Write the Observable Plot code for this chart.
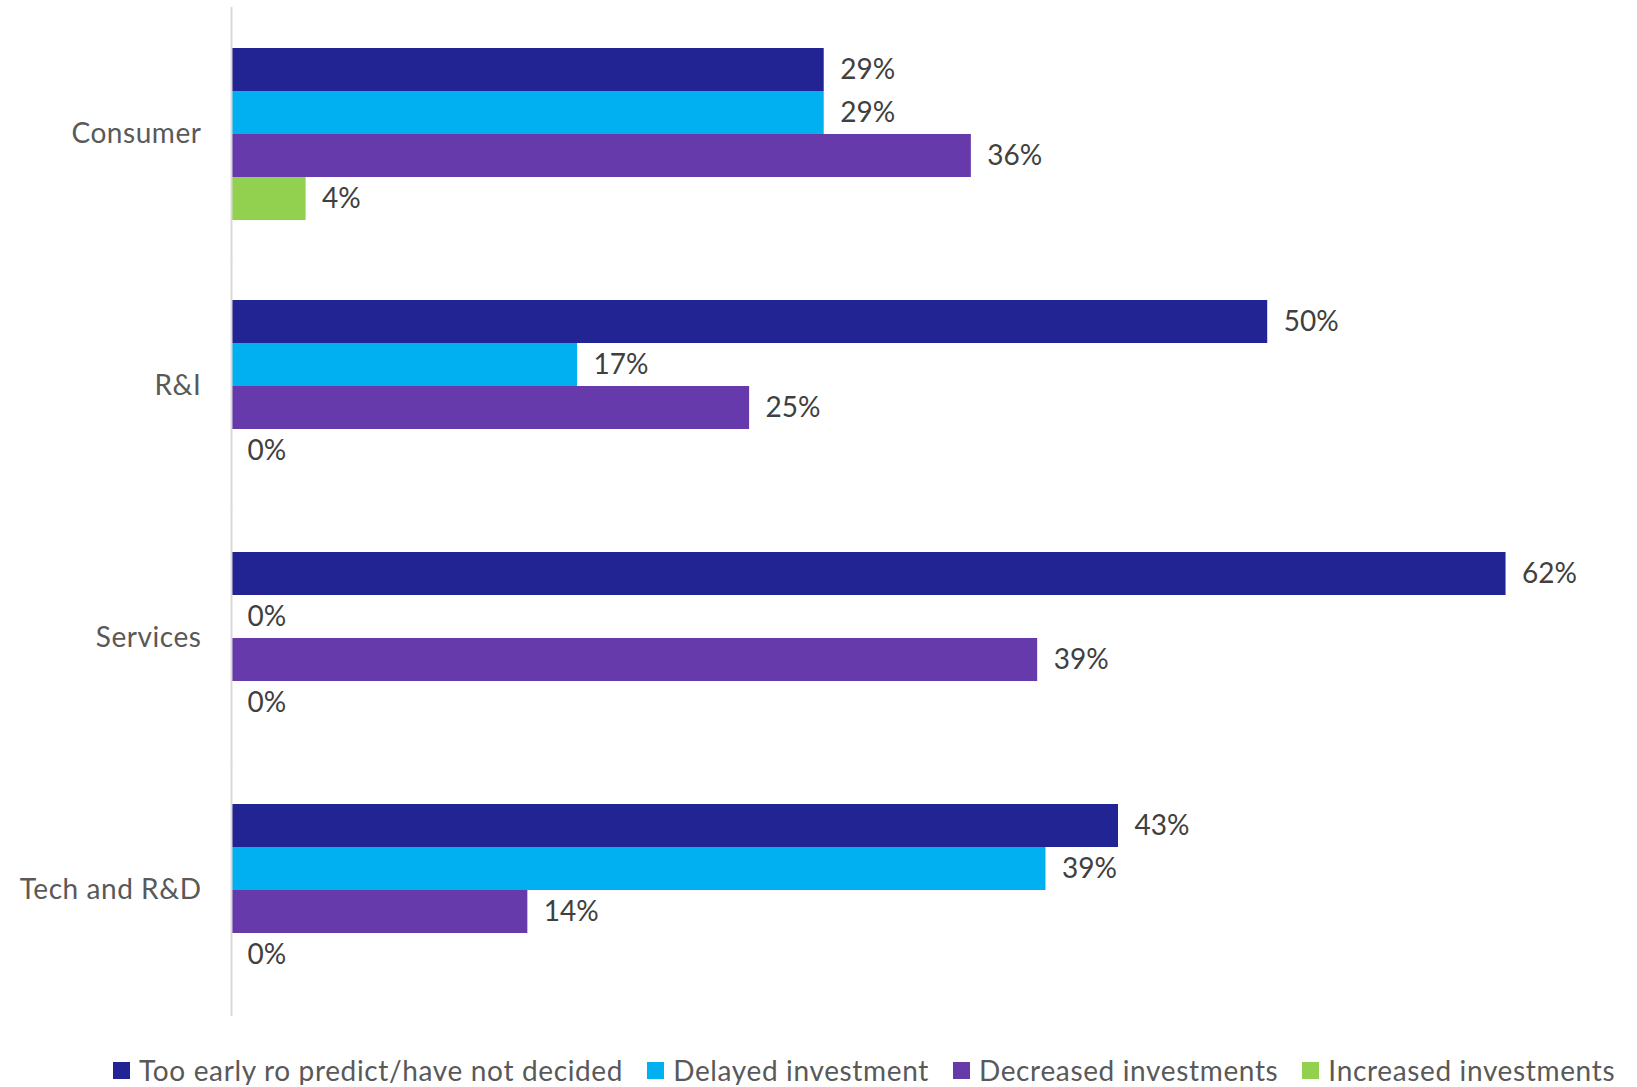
<!DOCTYPE html>
<html>
<head>
<meta charset="utf-8">
<script src="https://cdn.jsdelivr.net/npm/d3@7"></script>
<script src="https://cdn.jsdelivr.net/npm/@observablehq/plot@0.6"></script>
<style>
  html, body { margin: 0; padding: 0; background: #fff; }
  #chart { width: 1637px; }
  #chart g[aria-label^="fy-axis"] text { letter-spacing: 0.55px; }
  .legend { display: flex; align-items: center; margin-left: 113px; margin-top: 25px; height: 30px;
            font-family: Lato, "Open Sans", sans-serif; font-size: 28px; letter-spacing: 0.65px; color: #595959; white-space: nowrap; }
  .legend .item { display: flex; align-items: center; margin-right: 24px; }
  .legend .sw { width: 17px; height: 17px; margin-right: 9px; }
</style>
</head>
<body>
<div id="chart"></div>
<script>
const categories = ["Consumer", "R&I", "Services", "Tech and R&D"];
const series = ["Too early ro predict/have not decided", "Delayed investment", "Decreased investments", "Increased investments"];
const colors = ["#212492", "#00B0F0", "#673AAC", "#92D050"];
// values per series, in category order (percent)
const tooEarly  = [28.6, 50.0, 61.5, 42.8];
const delayed   = [28.6, 16.7, 0, 39.3];
const decreased = [35.7, 25.0, 38.9, 14.3];
const increased = [3.6, 0, 0, 0];

const seriesValues = [tooEarly, delayed, decreased, increased];
const rows = [];
categories.forEach((c, i) => {
  series.forEach((s, j) => rows.push({category: c, series: s, value: seriesValues[j][i]}));
});

const font = "Lato, 'Open Sans', sans-serif";
const chart = Plot.plot({
  width: 1637,
  height: 1030,
  marginLeft: 231,
  marginRight: 61,
  marginTop: 7,
  marginBottom: 14,
  style: {fontFamily: font, fontSize: "28px", color: "#595959", background: "#fff"},
  x: {domain: [0, 64.9], axis: null},
  y: {domain: series, padding: 0, axis: null},
  fy: {domain: categories, paddingInner: 0.315, paddingOuter: 0.1575, label: null, axis: "left", tickSize: 0, tickPadding: 30},
  color: {domain: series, range: colors},
  marks: [
    Plot.barX(rows, {fy: "category", y: "series", x: "value", fill: "series"}),
    Plot.ruleX([0], {stroke: "#d9d9d9", strokeWidth: 2, insetTop: -40, insetBottom: -40}),
    Plot.text(rows, {fy: "category", y: "series", x: "value", text: d => Math.round(d.value) + "%",
      textAnchor: "start", dx: 16, fill: "#404040", fontSize: 28})
  ]
});
document.getElementById("chart").appendChild(chart);

const legend = document.createElement("div");
legend.className = "legend";
series.forEach((s, i) => {
  const item = document.createElement("div");
  item.className = "item";
  const sw = document.createElement("span");
  sw.className = "sw";
  sw.style.background = colors[i];
  const t = document.createElement("span");
  t.textContent = s;
  item.appendChild(sw);
  item.appendChild(t);
  legend.appendChild(item);
});
document.getElementById("chart").appendChild(legend);
</script>
</body>
</html>
